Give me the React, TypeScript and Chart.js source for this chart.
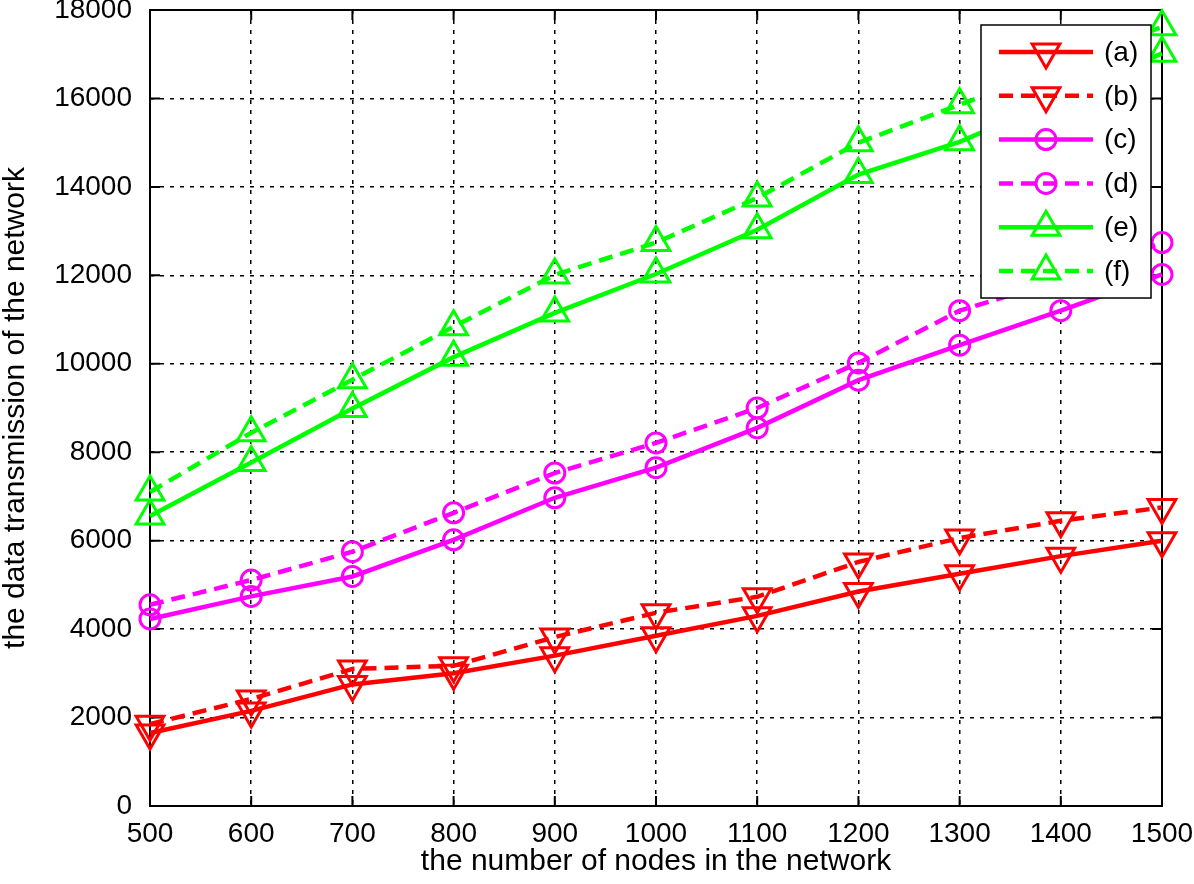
import React, { useEffect, useRef } from 'react';
import { Chart, registerables } from 'chart.js';

Chart.register(...registerables);

// ---- data ----
const nodeCounts = [500, 600, 700, 800, 900, 1000, 1100, 1200, 1300, 1400, 1500];
const seriesA = [1650, 2150, 2750, 3000, 3400, 3850, 4300, 4850, 5250, 5650, 6000];
const seriesB = [1850, 2420, 3100, 3170, 3820, 4370, 4730, 5520, 6060, 6450, 6750];
const seriesC = [4230, 4740, 5190, 6020, 6970, 7650, 8550, 9630, 10420, 11200, 12020];
const seriesD = [4550, 5110, 5750, 6630, 7530, 8210, 9000, 10020, 11200, 11900, 12740];
const seriesE = [6560, 7770, 8990, 10150, 11150, 12030, 13030, 14280, 15020, 16000, 17020];
const seriesF = [7100, 8440, 9640, 10840, 12010, 12740, 13750, 15000, 15860, 16700, 17620];
const seriesLabels = ['(a)', '(b)', '(c)', '(d)', '(e)', '(f)'];
const xTitle = 'the number of nodes in the network';
const yTitle = 'the data transmission of the network';
const xRange = [500, 1500, 100];
const yRange = [0, 18000, 2000];

const FONT = '"Liberation Sans", Arial, Helvetica, sans-serif';

type Marker = 'triDown' | 'circle' | 'triUp';
const seriesValues = [seriesA, seriesB, seriesC, seriesD, seriesE, seriesF];
const seriesColors = ['#ff0000', '#ff0000', '#ff00ff', '#ff00ff', '#00ff00', '#00ff00'];
const seriesDashed = [false, true, false, true, false, true];
const seriesMarkers: Marker[] = ['triDown', 'triDown', 'circle', 'circle', 'triUp', 'triUp'];

const DASH = [14, 8];
const TRI_R = 16;
const CIRC_R = 10;

function drawMarker(ctx: CanvasRenderingContext2D, m: Marker, x: number, y: number) {
  ctx.beginPath();
  if (m === 'circle') {
    ctx.arc(x, y, CIRC_R, 0, Math.PI * 2);
  } else {
    const rot = m === 'triDown' ? Math.PI : 0;
    for (let k = 0; k < 3; k++) {
      const a = rot + (k * 2 * Math.PI) / 3;
      const px = x + Math.sin(a) * TRI_R;
      const py = y - Math.cos(a) * TRI_R;
      if (k === 0) ctx.moveTo(px, py);
      else ctx.lineTo(px, py);
    }
    ctx.closePath();
  }
  ctx.stroke();
}

const framePlugin = {
  id: 'frameTicks',
  beforeDatasetsDraw(chart: any) {
    const { ctx, chartArea } = chart;
    const { left, right, top, bottom } = chartArea;
    const xs = chart.scales.x;
    const ys = chart.scales.y;
    ctx.save();
    ctx.setLineDash([]);
    ctx.strokeStyle = '#000';
    ctx.lineWidth = 2;
    ctx.strokeRect(left, top, right - left, bottom - top);
    ctx.beginPath();
    xs.ticks.forEach((t: any) => {
      const px = xs.getPixelForValue(t.value);
      ctx.moveTo(px, bottom);
      ctx.lineTo(px, bottom - 10);
      ctx.moveTo(px, top);
      ctx.lineTo(px, top + 10);
    });
    ys.ticks.forEach((t: any) => {
      const py = ys.getPixelForValue(t.value);
      ctx.moveTo(left, py);
      ctx.lineTo(left + 10, py);
      ctx.moveTo(right, py);
      ctx.lineTo(right - 10, py);
    });
    ctx.stroke();
    ctx.restore();
  },
};

const legendPlugin = {
  id: 'boxLegend',
  afterDraw(chart: any) {
    const { ctx, chartArea } = chart;
    const bx = chartArea.right - 181;
    const by = chartArea.top + 15;
    const bw = 170;
    const bh = 273;
    ctx.save();
    ctx.fillStyle = '#fff';
    ctx.fillRect(bx, by, bw, bh);
    ctx.setLineDash([]);
    ctx.strokeStyle = '#000';
    ctx.lineWidth = 1.5;
    ctx.strokeRect(bx, by, bw, bh);
    seriesLabels.forEach((label, i) => {
      const ry = by + 27 + i * 43.8;
      ctx.strokeStyle = seriesColors[i];
      ctx.lineWidth = 4.5;
      ctx.setLineDash(seriesDashed[i] ? DASH : []);
      ctx.beginPath();
      ctx.moveTo(bx + 18, ry);
      ctx.lineTo(bx + 112, ry);
      ctx.stroke();
      ctx.setLineDash([]);
      ctx.lineWidth = 3;
      drawMarker(ctx, seriesMarkers[i], bx + 65, ry);
      ctx.fillStyle = '#000';
      ctx.font = `28px ${FONT}`;
      ctx.textBaseline = 'middle';
      ctx.textAlign = 'left';
      ctx.fillText(label, bx + 123, ry + 1);
    });
    ctx.restore();
  },
};

export default function App() {
  const canvasRef = useRef<HTMLCanvasElement | null>(null);

  useEffect(() => {
    const canvas = canvasRef.current;
    if (!canvas) return;
    const datasets = seriesLabels.map((label, i) => ({
      label,
      data: nodeCounts.map((x, j) => ({ x, y: seriesValues[i][j] })),
      borderColor: seriesColors[i],
      backgroundColor: 'rgba(0,0,0,0)',
      borderWidth: 4.5,
      borderDash: seriesDashed[i] ? DASH : [],
      pointStyle: seriesMarkers[i] === 'circle' ? 'circle' : 'triangle',
      pointRotation: seriesMarkers[i] === 'triDown' ? 180 : 0,
      pointRadius: seriesMarkers[i] === 'circle' ? CIRC_R : TRI_R,
      pointBorderWidth: 3,
      pointBorderColor: seriesColors[i],
      pointBackgroundColor: 'rgba(0,0,0,0)',
      tension: 0,
      fill: false,
      clip: false as any,
    }));

    const chart = new Chart(canvas, {
      type: 'line',
      data: { datasets },
      plugins: [framePlugin, legendPlugin],
      options: {
        animation: false,
        responsive: false,
        maintainAspectRatio: false,
        events: [],
        layout: { autoPadding: false, padding: { top: 10, right: 32, bottom: 0, left: 0 } },
        plugins: { legend: { display: false }, tooltip: { enabled: false } },
        scales: {
          x: {
            type: 'linear',
            min: xRange[0],
            max: xRange[1],
            afterFit: (s: any) => {
              s.height = 78;
              s.paddingLeft = 0;
              s.paddingRight = 0;
            },
            ticks: {
              stepSize: xRange[2],
              color: '#000',
              padding: 11,
              maxRotation: 0,
              autoSkip: false,
              font: { family: FONT, size: 28, lineHeight: 1.2 },
              callback: (v: any) => String(v),
            },
            grid: { color: '#000', lineWidth: 1.5, drawTicks: false },
            border: { display: false, dash: [4, 6] },
            title: {
              display: true,
              text: xTitle,
              color: '#000',
              font: { family: FONT, size: 30, lineHeight: 1.2 },
              padding: { top: 0, bottom: 4 },
            },
          },
          y: {
            type: 'linear',
            min: yRange[0],
            max: yRange[1],
            afterFit: (s: any) => {
              s.width = 150;
              s.paddingTop = 0;
              s.paddingBottom = 0;
            },
            ticks: {
              stepSize: yRange[2],
              color: '#000',
              padding: 18,
              font: { family: FONT, size: 28, lineHeight: 1.2 },
              callback: (v: any) => String(v),
            },
            grid: { color: '#000', lineWidth: 1.5, drawTicks: false },
            border: { display: false, dash: [4, 6] },
            title: {
              display: true,
              text: yTitle,
              color: '#000',
              font: { family: FONT, size: 30, lineHeight: 1.0 },
              padding: { top: 1, bottom: 0 },
            },
          },
        },
      } as any,
    });
    return () => chart.destroy();
  }, []);

  return (
    <div style={{ position: 'absolute', left: 0, top: 0, width: 1194, height: 884, background: '#fff' }}>
      <canvas ref={canvasRef} width={1194} height={884} style={{ width: 1194, height: 884, display: 'block' }} />
    </div>
  );
}
